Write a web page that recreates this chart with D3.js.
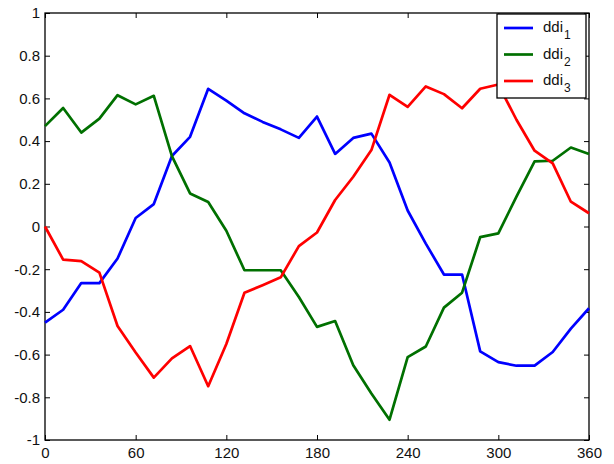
<!DOCTYPE html>
<html>
<head>
<meta charset="utf-8">
<script src="https://cdn.jsdelivr.net/npm/d3@7"></script>
<style>
  body { margin: 0; background: #fff; }
  text { font-family: "Liberation Sans", Arial, sans-serif; }
</style>
</head>
<body>
<div id="chart"></div>
<script>
// Angles (degrees), one sample every 12 degrees
const angles = [0, 12, 24, 36, 48, 60, 72, 84, 96, 108, 120, 132, 144, 156, 168, 180,
  192, 204, 216, 228, 240, 252, 264, 276, 288, 300, 312, 324, 336, 348, 360];

// Series values
const ddi1 = [-0.45, -0.39, -0.265, -0.265, -0.15, 0.04, 0.105, 0.33, 0.42, 0.645, 0.59, 0.53, 0.49, 0.455, 0.415,
  0.515, 0.34, 0.415, 0.435, 0.30, 0.075, -0.08, -0.225, -0.225, -0.585, -0.635, -0.652, -0.652, -0.588, -0.478, -0.383];
const ddi2 = [0.47, 0.555, 0.44, 0.505, 0.615, 0.572, 0.612, 0.33, 0.155, 0.115, -0.02, -0.205, -0.205, -0.205, -0.33,
  -0.47, -0.443, -0.65, -0.782, -0.905, -0.612, -0.562, -0.38, -0.31, -0.05, -0.032, 0.14, 0.305, 0.308, 0.37, 0.34];
const ddi3 = [0, -0.155, -0.162, -0.216, -0.466, -0.59, -0.708, -0.618, -0.56, -0.748, -0.55, -0.31, -0.275, -0.238, -0.092,
  -0.028, 0.124, 0.233, 0.358, 0.617, 0.56, 0.656, 0.62, 0.554, 0.645, 0.665, 0.5, 0.355, 0.296, 0.116, 0.062];

const seriesNames = ["1", "2", "3"];
const seriesColors = ["#0000ff", "#007000", "#ff0000"];
const xTicks = [0, 60, 120, 180, 240, 300, 360];
const yTicks = [-1, -0.8, -0.6, -0.4, -0.2, 0, 0.2, 0.4, 0.6, 0.8, 1];

const width = 614;
const height = 464;
const margin = { top: 13, right: 25, bottom: 24, left: 45 };

const svg = d3.select("#chart")
  .append("svg")
    .attr("width", width)
    .attr("height", height);

const x = d3.scaleLinear().domain([0, 360]).range([margin.left, width - margin.right]);
const y = d3.scaleLinear().domain([-1, 1]).range([height - margin.bottom, margin.top]);

// plain hyphen for negatives, like the original
const tickFmt = d => String(+d.toFixed(1));

// Bottom and left axes with inward ticks, top and right mirror ticks
const axisStyle = g => {
  g.select(".domain").remove();
  g.selectAll("line").attr("stroke", "#000");
  g.selectAll("text").attr("fill", "#111").style("font-size", "15px");
};

svg.append("g")
  .attr("transform", `translate(0,${y(-1)})`)
  .call(d3.axisBottom(x).tickValues(xTicks).tickSizeInner(-5).tickSizeOuter(0).tickPadding(7).tickFormat(tickFmt))
  .call(axisStyle);

svg.append("g")
  .attr("transform", `translate(${x(0)},0)`)
  .call(d3.axisLeft(y).tickValues(yTicks).tickSizeInner(-5).tickSizeOuter(0).tickPadding(5).tickFormat(tickFmt))
  .call(axisStyle);

svg.append("g")
  .attr("transform", `translate(0,${y(1)})`)
  .call(d3.axisTop(x).tickValues(xTicks).tickSizeInner(-5).tickSizeOuter(0).tickFormat(""))
  .call(axisStyle);

svg.append("g")
  .attr("transform", `translate(${x(360)},0)`)
  .call(d3.axisRight(y).tickValues(yTicks).tickSizeInner(-5).tickSizeOuter(0).tickFormat(""))
  .call(axisStyle);

// Box around the plot
svg.append("rect")
  .attr("x", x(0))
  .attr("y", y(1))
  .attr("width", x(360) - x(0))
  .attr("height", y(-1) - y(1))
  .attr("fill", "none")
  .attr("stroke", "#000")
  .attr("stroke-width", 1.3);

// Lines
const allSeries = [ddi1, ddi2, ddi3];
const line = d3.line()
  .x((d, i) => x(angles[i]))
  .y(d => y(d));

allSeries.forEach((values, k) => {
  svg.append("path")
    .datum(values)
    .attr("fill", "none")
    .attr("stroke", seriesColors[k])
    .attr("stroke-width", 2.7)
    .attr("stroke-linejoin", "round")
    .attr("d", line);
});

// Legend
const legend = svg.append("g").attr("transform", "translate(497,14)");
legend.append("rect")
  .attr("width", 89)
  .attr("height", 84)
  .attr("fill", "#fff")
  .attr("stroke", "#000")
  .attr("stroke-width", 1.3);

seriesNames.forEach((name, k) => {
  const row = legend.append("g").attr("transform", `translate(0,${14 + k * 26.5})`);
  row.append("line")
    .attr("x1", 7).attr("x2", 36)
    .attr("stroke", seriesColors[k])
    .attr("stroke-width", 2.7);
  const label = row.append("text")
    .attr("x", 46)
    .attr("y", 4)
    .style("font-size", "15px")
    .attr("fill", "#111");
  label.append("tspan").text("ddi");
  label.append("tspan")
    .attr("dy", 7)
    .attr("dx", 1)
    .style("font-size", "12px")
    .text(name);
});
</script>
</body>
</html>
